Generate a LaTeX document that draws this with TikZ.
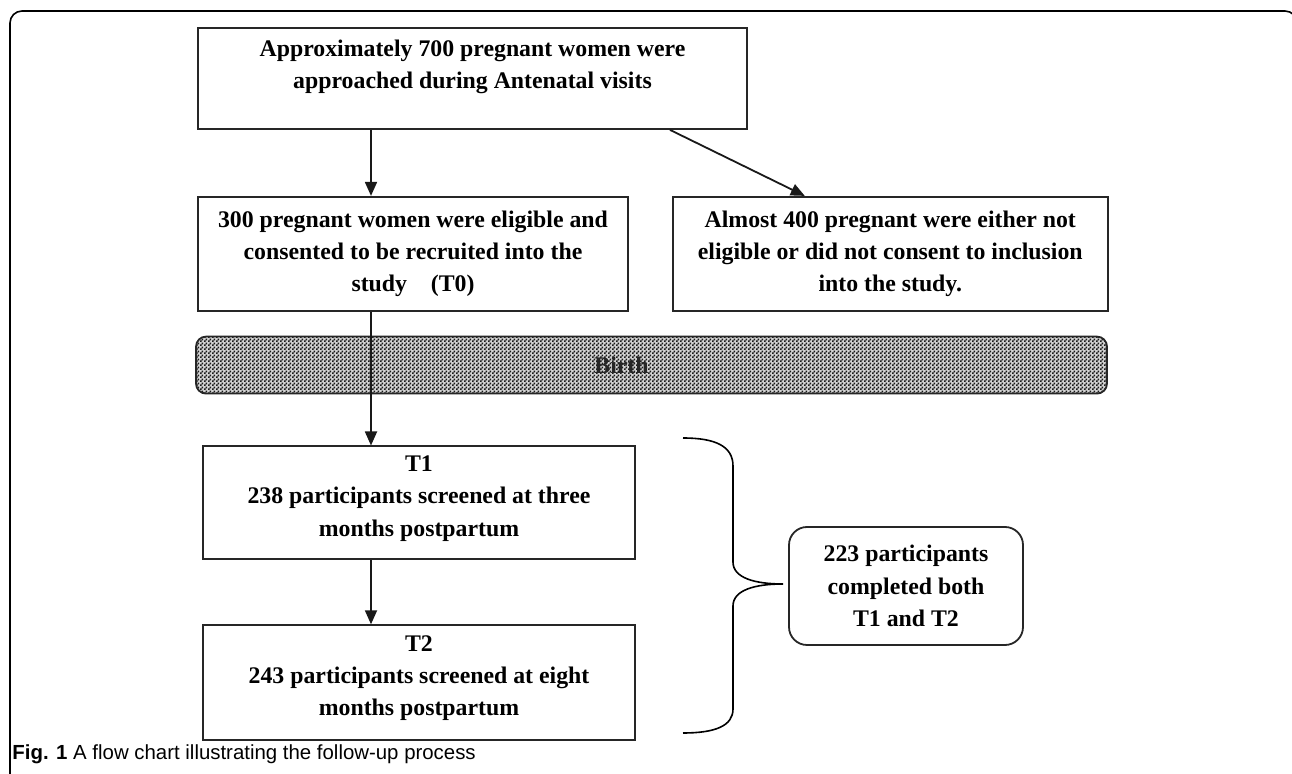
\documentclass[tikz,border=0pt]{standalone}
\usepackage{fontspec}
\setmainfont{Liberation Serif}
\newfontfamily\captfont{Liberation Sans}
\usetikzlibrary{arrows.meta,positioning,patterns.meta}
\tikzdeclarepattern{
  name=finechecker,
  type=uncolored,
  bounding box={(0pt,0pt) and (2pt,2pt)},
  tile size={(2pt,2pt)},
  code={
    \pgfpathrectangle{\pgfpointorigin}{\pgfqpoint{1pt}{1pt}}
    \pgfpathrectangle{\pgfqpoint{1pt}{1pt}}{\pgfqpoint{1pt}{1pt}}
    \pgfusepath{fill}
  }
}
\tikzset{
  stage/.style={draw=black!85, align=center, minimum width=216pt, minimum height=57pt, line width=0.9pt, font=\bfseries\fontsize{11.9}{16.2}\selectfont, inner sep=2pt},
  tally/.style={stage, rounded corners=9pt, minimum width=117pt, minimum height=59pt},
  band/.style={draw=black!85, rounded corners=5pt, minimum width=455.5pt, minimum height=28.5pt, line width=0.9pt, preaction={fill=gray!35}, pattern=finechecker, pattern color=black!90},
  arrow/.style={-{Triangle[length=7pt,width=6pt]}, line width=0.9pt, black!90},
  capt/.style={font=\captfont\fontsize{10.2}{12}\selectfont, anchor=west, inner sep=0pt}
}
\begin{document}
\begin{tikzpicture}[x=0.5pt, y=-0.5pt]
    \useasboundingbox (0,0) rectangle (1292,774);
    \draw[line width=0.8pt, rounded corners=6pt] (10,774) -- (10,11) -- (1297,11) -- (1297,774);

    \node[stage, minimum width=274.5pt, minimum height=50.5pt, text depth=14pt] (approach) at (472.5,78.5) {Approximately 700 pregnant women were\\approached during Antenatal visits};
    \node[stage, minimum width=215pt, below right=33pt and 0pt of approach.south west] (t0) {300 pregnant women were eligible and\\consented to be recruited into the\\study\quad(T0)};
    \node[stage, minimum width=217.5pt, right=21.5pt of t0] (excl) {Almost 400 pregnant were either not\\eligible or did not consent to inclusion\\into the study.};
    \node[band, below right=12pt and -1pt of t0.south west] (birth) {};
    \node[font=\bfseries\fontsize{11.9}{16.2}\selectfont, text=black!85] (birthtxt) at ([xshift=-15pt]birth.center) {Birth};
    \node[stage, minimum height=56.5pt, text depth=7pt, below right=25.5pt and 3.5pt of birth.south west] (t1) {T1\\238 participants screened at three\\months postpartum};
    \node[stage, minimum height=57.5pt, text depth=7pt, below=32pt of t1] (t2) {T2\\243 participants screened at eight\\months postpartum};
    \node[tally] (both) at (906,586) {223 participants\\completed both\\T1 and T2};

    \coordinate (spine) at (371,0);
    \draw[arrow] (approach.south -| spine) -- (t0.north -| spine);
    \draw[arrow] ([xshift=98.75pt]approach.south) -- ([xshift=-42.75pt]excl.north);
    \draw[arrow] (t0.south -| spine) -- (t1.north -| spine);
    \draw[arrow] (t1.south -| spine) -- (t2.north -| spine);

    % brace round T1 and T2
    \draw[line width=0.8pt] (683,438) .. controls (715,438) and (733,446) .. (733,466) -- (733,562)
      .. controls (733,578) and (755,584) .. (783,584)
      .. controls (755,584) and (733,590) .. (733,606) -- (733,709)
      .. controls (733,726) and (715,733) .. (683,733);

    \node[capt] (caption) at (12,754) {{\bfseries Fig. 1} A flow chart illustrating the follow-up process};
\end{tikzpicture}
\end{document}
